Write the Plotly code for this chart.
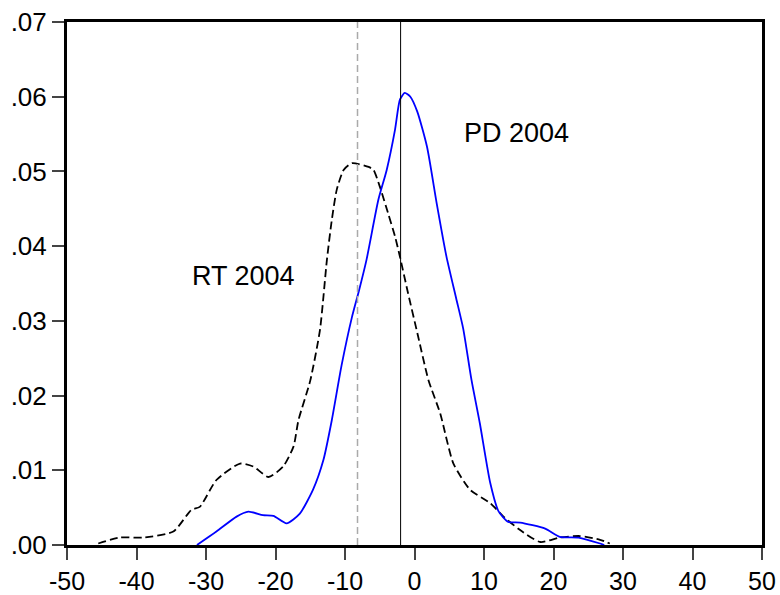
import plotly.graph_objects as go

# PD 2004 density (blue solid)
pd_x = [-31.3, -28.5, -25.6, -23.9, -21.8, -20.3, -18.4, -16.5, -14.6, -13.1, -11.9,
        -10.5, -9.0, -8.0, -6.9, -5.2, -4.0, -2.8, -2.1, -1.4, -0.6, 0.4, 1.8, 3.2,
        4.6, 6.0, 7.0, 8.2, 9.4, 10.9, 12.1, 13.5, 15.2, 18.8, 20.9, 23.6, 26.7, 27.3]
pd_y = [0.0, 0.0018, 0.0038, 0.00446, 0.0040, 0.0039, 0.0029, 0.0042, 0.0074, 0.0114, 0.0167,
        0.024, 0.0305, 0.034, 0.0382, 0.0462, 0.0502, 0.0556, 0.0596, 0.0605, 0.0600, 0.058, 0.0533, 0.0457,
        0.0386, 0.033, 0.029, 0.0221, 0.0163, 0.0083, 0.0045, 0.0031, 0.0030, 0.0022, 0.0011, 0.0010, 0.0002, 0.0]

# RT 2004 density (black dashed)
rt_x = [-45.5, -42.4, -39.0, -34.7, -32.1, -30.9, -28.5, -25.1, -23.2, -21.0, -18.9, -17.4,
        -16.7, -15.0, -13.6, -12.6, -11.9, -11.2, -10.2, -9.0, -6.6, -5.9, -5.0, -3.8, -2.8,
        -2.1, -1.0, 0.5, 2.0, 3.7, 5.6, 8.0, 10.9, 12.8, 15.2, 18.1, 20.9, 23.8, 26.7, 28.1]
rt_y = [0.0002, 0.0010, 0.0010, 0.0018, 0.0047, 0.0051, 0.0087, 0.0109, 0.0105, 0.0091, 0.0105, 0.0132,
        0.0167, 0.022, 0.0288, 0.0382, 0.0435, 0.0475, 0.0502, 0.0511, 0.0506, 0.0502, 0.0480, 0.0444, 0.0413,
        0.0386, 0.034, 0.028, 0.0221, 0.0176, 0.0109, 0.0074, 0.0056, 0.0038, 0.0020, 0.0004, 0.0010, 0.0012, 0.0007, 0.0002]

rt_mean = -8.2
pd_mean = -2.0

x_ticks = [-50, -40, -30, -20, -10, 0, 10, 20, 30, 40, 50]
x_labels = ['-50', '-40', '-30', '-20', '-10', '0', '10', '20', '30', '40', '50']
y_ticks = [0, 0.01, 0.02, 0.03, 0.04, 0.05, 0.06, 0.07]
y_labels = ['.00', '.01', '.02', '.03', '.04', '.05', '.06', '.07']

font = "Liberation Sans, Arial, sans-serif"

fig = go.Figure()
fig.add_trace(go.Scatter(x=rt_x, y=rt_y, mode='lines',
                         line=dict(color='black', width=1.8, dash='8px,4px', shape='spline', smoothing=0.6)))
fig.add_trace(go.Scatter(x=pd_x, y=pd_y, mode='lines',
                         line=dict(color='#0000ff', width=1.8, shape='spline', smoothing=0.6)))

fig.add_shape(type='line', xref='x', yref='paper', x0=rt_mean, x1=rt_mean, y0=0, y1=1,
              line=dict(color='#aaaaaa', width=1.5, dash='7px,4px'))
fig.add_shape(type='line', xref='x', yref='paper', x0=pd_mean, x1=pd_mean, y0=0, y1=1,
              line=dict(color='black', width=1))

fig.add_annotation(x=14.7, y=0.0552, text='PD 2004', showarrow=False,
                   font=dict(family=font, size=27, color='black'))
fig.add_annotation(x=-24.6, y=0.036, text='RT 2004', showarrow=False,
                   font=dict(family=font, size=27, color='black'))

fig.update_layout(
    width=780, height=595,
    margin=dict(l=67, r=18, t=22, b=50),
    paper_bgcolor='white', plot_bgcolor='white',
    showlegend=False,
    font=dict(family=font, size=26, color='black'),
    xaxis=dict(range=[-50, 50], tickvals=x_ticks, ticktext=x_labels, ticks='outside', ticklen=12,
               tickwidth=1.5, showline=True, mirror=True, linewidth=3, linecolor='black',
               showgrid=False, zeroline=False, automargin=False, tickfont=dict(size=25)),
    yaxis=dict(range=[0, 0.07], tickvals=y_ticks, ticktext=y_labels, ticks='outside', ticklen=12,
               tickwidth=1.5, showline=True, mirror=True, linewidth=3, linecolor='black',
               showgrid=False, zeroline=False, automargin=False),
)

# page has a default 8px body margin; drop it so the figure fills the window
fig.write_html("out.html", config={'displayModeBar': False},
               post_script="document.body.style.margin='0';document.body.style.overflow='hidden';")
